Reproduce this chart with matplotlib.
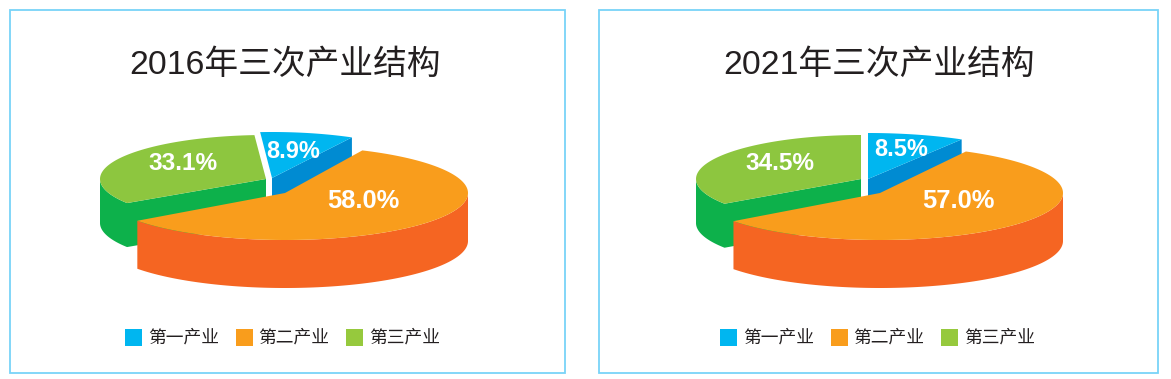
"""Two exploded 3D-look pies of industry structure, 2016 and 2021."""

import numpy as np
import matplotlib

matplotlib.use("Agg")
import matplotlib.pyplot as plt
from matplotlib.patches import Polygon, Rectangle

W, H = 1171, 379

years = ["2016", "2021"]
categories = ["第一产业", "第二产业", "第三产业"]
first = [8.9, 8.5]
second = [58.0, 57.0]
third = [33.1, 34.5]

TOP = {"first": "#00B6F0", "second": "#F99D1C", "third": "#8DC63F"}
SIDE = {"first": "#008BD2", "second": "#F56522", "third": "#0DB14B"}
LEGEND = ["#00B6F0", "#F99D1C", "#96C93D"]
TEXT = "#231F20"
FRAME = "#78D3F8"
LATIN_CJK = ["Liberation Sans", "Noto Sans CJK SC"]
LABEL_SIZES = [17.0, 18.4, 17.6]

# per-panel layout in pixels: centre x, centre y, rx, ry, wall height, start angle
LAYOUT = [
    {
        "frame": (10, 565),
        "title_x": 285,
        "legend_x": 125,
        "first": (272, 178, 170, 46, 48, 94),
        "third": (266, 179, 166, 44, 44, 94),
        "second": (285, 193, 183, 47, 48, 65),
        "labels": [(293, 151), (363, 201), (183, 164)],
    },
    {
        "frame": (599, 1158),
        "title_x": 879,
        "legend_x": 720,
        "first": (868, 179, 184, 46, 48, 90),
        "third": (861, 179, 165, 44, 44, 90),
        "second": (880, 193, 183, 47, 48, 62),
        "labels": [(901, 150), (958, 201), (780, 163)],
    },
]


def arc(cx, cy, rx, ry, t0, t1, n=120):
    t = np.radians(np.linspace(t0, t1, n))
    return np.column_stack([cx + rx * np.cos(t), cy - ry * np.sin(t)])


def draw_first(ax, geom, value):
    cx, cy, rx, ry, h, start = geom
    end = start - value * 3.6
    rim = arc(cx, cy, rx, ry, start, end)
    face = [rim[-1], rim[-1] + (0, h), (cx, cy + h), (cx, cy)]
    ax.add_patch(Polygon(face, fc=SIDE["first"], ec="none", zorder=2))
    ax.add_patch(Polygon(np.vstack([[(cx, cy)], rim]), fc=TOP["first"], ec="none", zorder=3))


def draw_third(ax, geom, value):
    cx, cy, rx, ry, h, start = geom
    end = start + value * 3.6
    rim = arc(cx, cy, rx, ry, start, end)
    wall = arc(cx, cy, rx, ry, 180, end)
    face = np.vstack([[(cx, cy)], wall[::-1], wall + (0, h), [(cx, cy + h)]])
    ax.add_patch(Polygon(face, fc=SIDE["third"], ec="none", zorder=2))
    ax.add_patch(Polygon(np.vstack([[(cx, cy)], rim]), fc=TOP["third"], ec="none", zorder=3))


def draw_second(ax, geom, value):
    cx, cy, rx, ry, h, start = geom
    end = start - value * 3.6
    rim = arc(cx, cy, rx, ry, start, end)
    wall = arc(cx, cy, rx, ry, end, 0)
    ax.add_patch(Polygon(np.vstack([wall, wall[::-1] + (0, h)]), fc=SIDE["second"], ec="none", zorder=4))
    ax.add_patch(Polygon(np.vstack([[(cx, cy)], rim]), fc=TOP["second"], ec="none", zorder=5))


def main() -> None:
    fig = plt.figure(figsize=(W / 100, H / 100), dpi=100)
    ax = fig.add_axes([0, 0, 1, 1])
    ax.set_xlim(0, W)
    ax.set_ylim(H, 0)
    ax.axis("off")

    for i, year in enumerate(years):
        lay = LAYOUT[i]
        x0, x1 = lay["frame"]
        ax.add_patch(Rectangle((x0, 10), x1 - x0, 363, fc="white", ec=FRAME, lw=1.3, zorder=1))
        ax.text(lay["title_x"], 65, f"{year}年三次产业结构", ha="center", va="center",
                fontsize=24.3, color=TEXT, family=LATIN_CJK, fontweight="light", zorder=6)

        draw_third(ax, lay["third"], third[i])
        draw_first(ax, lay["first"], first[i])
        draw_second(ax, lay["second"], second[i])

        values = [first[i], second[i], third[i]]
        for (lx, ly), v, size in zip(lay["labels"], values, LABEL_SIZES):
            ax.text(lx, ly, f"{v:.1f}%", ha="center", va="center", fontsize=size,
                    fontweight="bold", color="white", family="Liberation Sans", zorder=7)

        for k, (name, color) in enumerate(zip(categories, LEGEND)):
            sx = lay["legend_x"] + k * 110.5
            ax.add_patch(Rectangle((sx, 329), 17, 17, fc=color, ec="none", zorder=6))
            ax.text(sx + 23, 338, name, ha="left", va="center", fontsize=12.8,
                    color=TEXT, family="Noto Sans CJK SC", zorder=6)

    fig.savefig("out.png", dpi=100)


if __name__ == "__main__":
    main()
